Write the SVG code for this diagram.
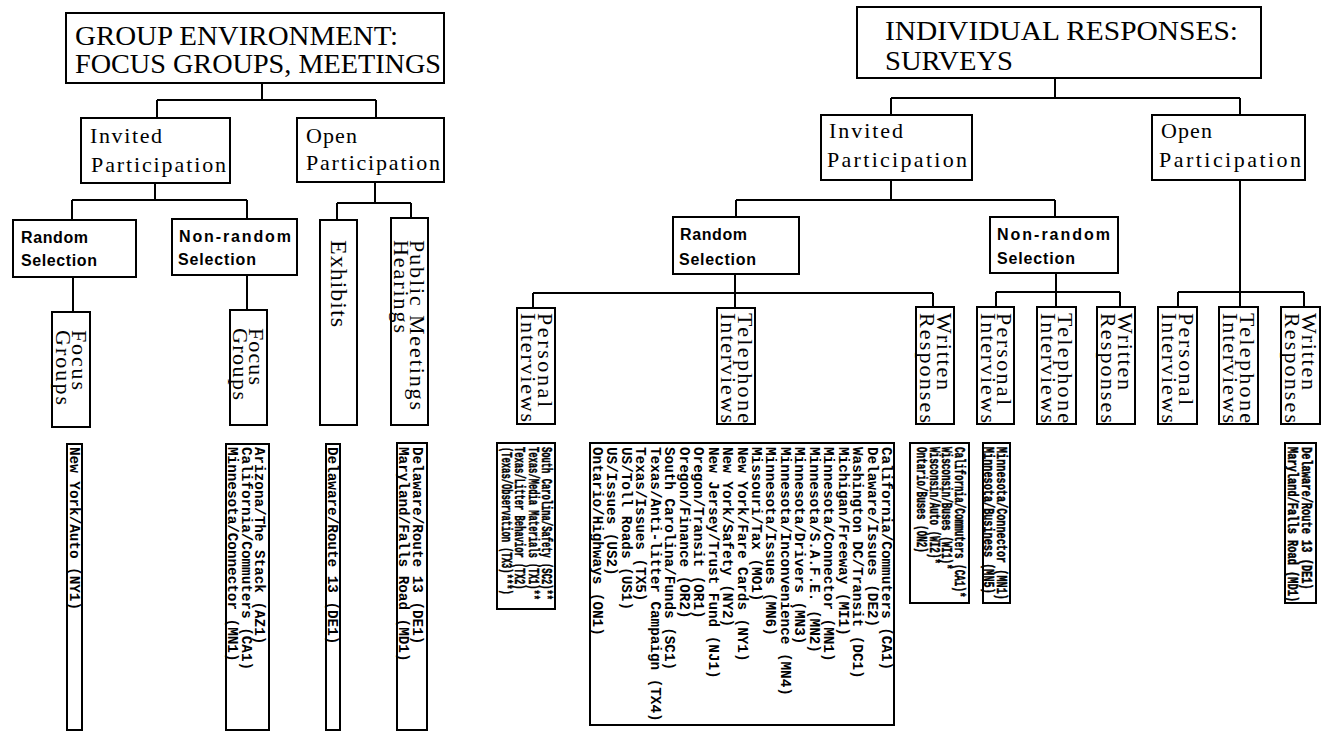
<svg xmlns="http://www.w3.org/2000/svg" width="1324" height="732" viewBox="0 0 1324 732">
<style>
.box{fill:#fff;stroke:#000;stroke-width:2}
.conn{fill:none;stroke:#000;stroke-width:2}
.title{font-family:"Liberation Serif",serif;font-size:28px}
.l1{font-family:"Liberation Serif",serif;font-size:22px}
.l2{font-family:"Liberation Sans",Arial,sans-serif;font-weight:bold;font-size:16px}
.rot{font-family:"Liberation Serif",serif;font-size:22px}
.list{font-family:"Liberation Mono",monospace;font-weight:bold;font-size:14.3px}
.listc{font-family:"Liberation Mono",monospace;font-weight:bold;font-size:15px;stroke:#000;stroke-width:0.5px}
</style>
<rect width="1324" height="732" fill="#fff"/>
<g id="connectors" class="conn">
<path d="M262,83V100M157,100H376M157,100V118M376,100V118"/>
<path d="M155,183V200M72,200H247M72,200V220M247,200V219"/>
<path d="M375,182V203M337,203H411M337,203V220M411,203V218"/>
<path d="M73,277V312M247,275V310"/>
<path d="M1055,78V98M891,98H1240M891,98V115M1240,98V115"/>
<path d="M891,180V200M736,200H1055M736,200V217M1055,200V217"/>
<path d="M735,274V293M533,293H933M533,293V308M735,293V308M933,293V307"/>
<path d="M1056,273V292M996,292H1120M996,292V307M1056,292V307M1120,292V307"/>
<path d="M1240,180V292M1178,292H1304M1178,292V307M1240,292V307M1304,292V307"/>
</g>

<g id="group-title">
<rect class="box" x="66" y="13" width="378" height="70"/>
<text class="title" x="75" y="45" textLength="323" lengthAdjust="spacingAndGlyphs">GROUP ENVIRONMENT:</text>
<text class="title" x="75" y="73" textLength="366" lengthAdjust="spacingAndGlyphs">FOCUS GROUPS, MEETINGS</text>
</g>
<g id="g-invited">
<rect class="box" x="81" y="118" width="149" height="65"/>
<text class="l1" x="90" y="143" textLength="72">Invited</text>
<text class="l1" x="91" y="172" textLength="135">Participation</text>
</g>
<g id="g-open">
<rect class="box" x="297" y="118" width="147" height="64"/>
<text class="l1" x="306" y="143" textLength="51">Open</text>
<text class="l1" x="306" y="170" textLength="134">Participation</text>
</g>
<g id="g-random">
<rect class="box" x="13" y="220" width="123" height="57"/>
<text class="l2" x="21" y="243" textLength="67">Random</text>
<text class="l2" x="21" y="266" textLength="76">Selection</text>
</g>
<g id="g-nonrandom">
<rect class="box" x="172" y="219" width="125" height="56"/>
<text class="l2" x="179" y="242" textLength="112">Non-random</text>
<text class="l2" x="178" y="265" textLength="78">Selection</text>
</g>
<g id="g-focus1">
<rect class="box" x="52" y="312" width="38" height="115"/>
<text class="rot" transform="translate(72,330) rotate(90)" textLength="60">Focus</text>
<text class="rot" transform="translate(56,330) rotate(90)" textLength="75">Groups</text>
</g>
<g id="g-focus2">
<rect class="box" x="230" y="310" width="37" height="115"/>
<text class="rot" transform="translate(249,328) rotate(90)" textLength="57">Focus</text>
<text class="rot" transform="translate(233,328) rotate(90)" textLength="72">Groups</text>
</g>
<g id="g-exhibits">
<rect class="box" x="320" y="220" width="37" height="205"/>
<text class="rot" style="font-size:24px" transform="translate(331,240) rotate(90)" textLength="87">Exhibits</text>
</g>
<g id="g-public">
<rect class="box" x="391" y="218" width="37" height="207"/>
<text class="rot" transform="translate(410,240) rotate(90)" textLength="170">Public Meetings</text>
<text class="rot" transform="translate(394,240) rotate(90)" textLength="93">Hearings</text>
</g>
<g id="g-list-ny">
<rect class="box" x="67" y="444" width="15" height="286"/>
<text class="list" transform="translate(70,447) rotate(90)">New York/Auto (NY1)</text>
</g>
<g id="g-list-az">
<rect class="box" x="226" y="444" width="43" height="286"/>
<text class="list" transform="translate(255,447) rotate(90)"><tspan x="0" y="0">Arizona/The Stack (AZ1)</tspan><tspan x="0" y="13.5">California/Commuters (CA1)</tspan><tspan x="0" y="27">Minnesota/Connector (MN1)</tspan></text>
</g>
<g id="g-list-de">
<rect class="box" x="326" y="444" width="14" height="286"/>
<text class="list" transform="translate(328,447) rotate(90)">Delaware/Route 13 (DE1)</text>
</g>
<g id="g-list-md">
<rect class="box" x="397" y="443" width="30" height="287"/>
<text class="list" transform="translate(413,447) rotate(90)"><tspan x="0" y="0">Delaware/Route 13 (DE1)</tspan><tspan x="0" y="14">Maryland/Falls Road (MD1)</tspan></text>
</g>

<g id="ind-title">
<rect class="box" x="857" y="7" width="404" height="71"/>
<text class="title" x="885" y="40" textLength="353" lengthAdjust="spacingAndGlyphs">INDIVIDUAL RESPONSES:</text>
<text class="title" x="885" y="70" textLength="128" lengthAdjust="spacingAndGlyphs">SURVEYS</text>
</g>
<g id="i-invited">
<rect class="box" x="821" y="115" width="151" height="65"/>
<text class="l1" x="829" y="138" textLength="74">Invited</text>
<text class="l1" x="827" y="167" textLength="140">Participation</text>
</g>
<g id="i-open">
<rect class="box" x="1152" y="115" width="153" height="65"/>
<text class="l1" x="1161" y="138" textLength="51">Open</text>
<text class="l1" x="1159" y="167" textLength="142">Participation</text>
</g>
<g id="i-random">
<rect class="box" x="673" y="217" width="126" height="57"/>
<text class="l2" x="680" y="240" textLength="67">Random</text>
<text class="l2" x="679" y="265" textLength="77">Selection</text>
</g>
<g id="i-nonrandom">
<rect class="box" x="990" y="217" width="128" height="56"/>
<text class="l2" x="997" y="240" textLength="113">Non-random</text>
<text class="l2" x="997" y="264" textLength="78">Selection</text>
</g>
<g id="i-r-personal">
<rect class="box" x="517" y="308" width="38" height="116"/>
<text class="rot" transform="translate(538,313) rotate(90)" textLength="94">Personal</text>
<text class="rot" transform="translate(521,313) rotate(90)" textLength="109">Interviews</text>
</g>
<g id="i-r-telephone">
<rect class="box" x="717" y="308" width="38" height="116"/>
<text class="rot" transform="translate(738,313) rotate(90)" textLength="110">Telephone</text>
<text class="rot" transform="translate(721,313) rotate(90)" textLength="110">Interviews</text>
</g>
<g id="i-r-written">
<rect class="box" x="916" y="307" width="38" height="117"/>
<text class="rot" transform="translate(937,313) rotate(90)" textLength="77">Written</text>
<text class="rot" transform="translate(920,313) rotate(90)" textLength="110">Responses</text>
</g>
<g id="i-n-personal">
<rect class="box" x="977" y="307" width="37" height="117"/>
<text class="rot" transform="translate(997,313) rotate(90)" textLength="92">Personal</text>
<text class="rot" transform="translate(981,313) rotate(90)" textLength="110">Interviews</text>
</g>
<g id="i-n-telephone">
<rect class="box" x="1037" y="307" width="39" height="117"/>
<text class="rot" transform="translate(1058,313) rotate(90)" textLength="110">Telephone</text>
<text class="rot" transform="translate(1041,313) rotate(90)" textLength="110">Interviews</text>
</g>
<g id="i-n-written">
<rect class="box" x="1097" y="307" width="38" height="117"/>
<text class="rot" transform="translate(1118,313) rotate(90)" textLength="77">Written</text>
<text class="rot" transform="translate(1101,313) rotate(90)" textLength="110">Responses</text>
</g>
<g id="i-o-personal">
<rect class="box" x="1158" y="307" width="39" height="117"/>
<text class="rot" transform="translate(1179,313) rotate(90)" textLength="92">Personal</text>
<text class="rot" transform="translate(1162,313) rotate(90)" textLength="110">Interviews</text>
</g>
<g id="i-o-telephone">
<rect class="box" x="1219" y="307" width="39" height="117"/>
<text class="rot" transform="translate(1240,313) rotate(90)" textLength="110">Telephone</text>
<text class="rot" transform="translate(1223,313) rotate(90)" textLength="110">Interviews</text>
</g>
<g id="i-o-written">
<rect class="box" x="1281" y="307" width="39" height="117"/>
<text class="rot" transform="translate(1302,313) rotate(90)" textLength="77">Written</text>
<text class="rot" transform="translate(1285,313) rotate(90)" textLength="110">Responses</text>
</g>
<g id="i-list-personal">
<rect class="box" x="497" y="443" width="58" height="166"/>
<text class="listc" transform="translate(542,447) rotate(90) scale(0.587,1)"><tspan x="0" y="0">South Carolina/Safety (SC2)**</tspan><tspan x="0" y="13.3">Texas/Media Materials (TX1)**</tspan><tspan x="0" y="26.6">Texas/Litter Behavior (TX2)</tspan><tspan x="0" y="39.9">(Texas/Observation (TX3)***)</tspan></text>
</g>
<g id="i-list-telephone">
<rect class="box" x="590" y="443" width="304" height="282"/>
<text class="list" transform="translate(882,447) rotate(90)"><tspan x="0" y="0">California/Commuters (CA1)</tspan><tspan x="0" y="14.45">Delaware/Issues (DE2)</tspan><tspan x="0" y="28.9">Washington DC/Transit (DC1)</tspan><tspan x="0" y="43.35">Michigan/Freeway (MI1)</tspan><tspan x="0" y="57.8">Minnesota/Connector (MN1)</tspan><tspan x="0" y="72.25">Minnesota/S.A.F.E. (MN2)</tspan><tspan x="0" y="86.7">Minnesota/Drivers (MN3)</tspan><tspan x="0" y="101.15">Minnesota/Inconvenience (MN4)</tspan><tspan x="0" y="115.6">Minnesota/Issues (MN6)</tspan><tspan x="0" y="130.05">Missouri/Tax (MO1)</tspan><tspan x="0" y="144.5">New York/Fare Cards (NY1)</tspan><tspan x="0" y="158.95">New York/Safety (NY2)</tspan><tspan x="0" y="173.4">New Jersey/Trust Fund (NJ1)</tspan><tspan x="0" y="187.85">Oregon/Transit (OR1)</tspan><tspan x="0" y="202.3">Oregon/Finance (OR2)</tspan><tspan x="0" y="216.75">South Carolina/Funds (SC1)</tspan><tspan x="0" y="231.2">Texas/Anti-litter Campaign (TX4)</tspan><tspan x="0" y="245.65">Texas/Issues (TX5)</tspan><tspan x="0" y="260.1">US/Toll Roads (US1)</tspan><tspan x="0" y="274.55">US/Issues (US2)</tspan><tspan x="0" y="289">Ontario/Highways (ON1)</tspan></text>
</g>
<g id="i-list-written">
<rect class="box" x="910" y="443" width="59" height="160"/>
<text class="listc" transform="translate(955,447) rotate(90) scale(0.62,1)"><tspan x="0" y="0">California/Commuters (CA1)*</tspan><tspan x="0" y="12.7">Wisconsin/Buses (WI1)*</tspan><tspan x="0" y="25.4">Wisconsin/Auto (WI2)*</tspan><tspan x="0" y="38.1">Ontario/Buses (ON2)</tspan></text>
</g>
<g id="i-list-mn">
<rect class="box" x="983" y="443" width="27" height="160"/>
<text class="listc" transform="translate(997,447) rotate(90) scale(0.68,1)"><tspan x="0" y="0">Minnesota/Connector (MN1)</tspan><tspan x="0" y="13.5">Minnesota/Business (MN5)</tspan></text>
</g>
<g id="i-list-de">
<rect class="box" x="1285" y="443" width="31" height="160"/>
<text class="listc" transform="translate(1302,447) rotate(90) scale(0.69,1)"><tspan x="0" y="0">Delaware/Route 13 (DE1)</tspan><tspan x="0" y="14">Maryland/Falls Road (MD1)</tspan></text>
</g>
</svg>
